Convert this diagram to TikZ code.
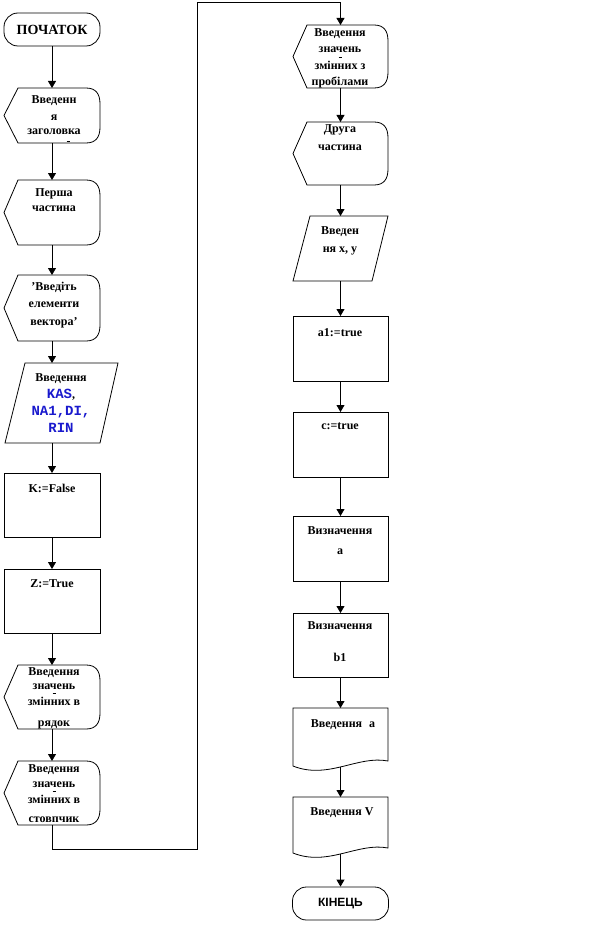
\documentclass[tikz,border=0pt]{standalone}
\usepackage{fontspec}
\setmainfont{Liberation Serif}
\setsansfont{Liberation Sans}
\setmonofont{Liberation Mono}
\usetikzlibrary{arrows.meta}
\definecolor{codeblue}{RGB}{25,25,205}
\newcommand\codefont{\fontsize{14}{16}\selectfont\ttfamily\bfseries\color{codeblue}}
% display shape: name, x-left, x-right, top, bottom
\newcommand\DispShape[5]{%
  \draw[shp] ({#2+14},#4) -- ({#3-14},#4) .. controls ({#3-4},#4) and (#3,{#4+6}) .. (#3,{#4+16})
    -- (#3,{#5-16}) .. controls (#3,{#5-6}) and ({#3-4},#5) .. ({#3-14},#5)
    -- ({#2+14},#5) -- (#2,{(#4+#5)/2}) -- cycle;
  \coordinate (#1-t) at ({(#2+#3)/2},#4);
  \coordinate (#1-b) at ({(#2+#3)/2},#5);}
% process box: name, x-left, x-right, top, bottom
\newcommand\RectShape[5]{%
  \draw[shp] (#2,#4) rectangle (#3,#5);
  \coordinate (#1-t) at ({(#2+#3)/2},#4);
  \coordinate (#1-b) at ({(#2+#3)/2},#5);}
% document: name, x-left, x-right, top, bottom-left, bottom-right
\newcommand\DocShape[6]{%
  \draw[shp] (#2,#4) -- (#3,#4) -- (#3,#6) .. controls ({#3-30},{#6-6}) and ({#2+35},{#5+14}) .. (#2,#5) -- cycle;
  \coordinate (#1-t) at ({(#2+#3)/2},#4);
  \coordinate (#1-b) at ({(#2+#3)/2},{(#5+#6)/2+3});}
% small hyphen stroke: x, y
\newcommand\HyMark[2]{\draw[line width=0.7pt] ({#1-1.5},#2) -- ({#1+1.5},#2);}
\begin{document}
\begin{tikzpicture}[x=1pt,y=-1pt,
  shp/.style={draw=black,line width=0.8pt},
  arr/.style={draw=black,line width=0.8pt,-{Triangle[width=8pt,length=7pt]}},
  txt/.style={font=\fontsize{12}{16}\selectfont\bfseries,align=center,inner sep=0pt,anchor=north},
  term/.style={draw=black,line width=0.8pt,rounded corners=14pt,minimum width=96pt,minimum height=33pt,inner sep=0pt}]
\useasboundingbox (0,0) rectangle (603,931);

% ---------------- left column ----------------
\node[term,font=\fontsize{14}{16}\selectfont\bfseries] (start) at (52,29.5) {ПОЧАТОК};

\DispShape{d1}{4}{100}{88}{143}
\node[txt] (d1x) at (54,95) {Введенн\\[1pt]я\\[-2pt]заголовка};
\HyMark{68}{141}

\DispShape{d2}{4}{100}{180}{245}
\node[txt] (d2x) at (54,188) {Перша\\[-1pt]частина};

\DispShape{d3}{4}{100}{275}{341}
\node[txt] (d3x) at (54,282) {'Введіть\\[1pt]елементи\\[2pt]вектора'};

\draw[shp] (25,363) -- (118,363) -- (100,443) -- (5,443) -- cycle;
\coordinate (p1-t) at (52,363);
\coordinate (p1-b) at (52,443);
\node[txt] (p1x) at (61,373) {Введення\\[1pt]{\codefont KAS}{,}\\[1pt]{\codefont NA1,DI,}\\[1pt]{\codefont RIN}};

\RectShape{k}{4}{100}{473}{537}
\node[txt] (kx) at (52,484) {K:=False};

\RectShape{z}{4}{100}{569}{633}
\node[txt] (zx) at (52,579) {Z:=True};

\DispShape{d4}{4}{100}{665}{729}
\node[txt] (d4x) at (54,667) {Введення\\[-2pt]значень\\[0pt]змінних в\\[5pt]рядок};
\HyMark{54}{693}

\DispShape{d5}{4}{100}{761}{825}
\node[txt] (d5x) at (54,764) {Введення\\[-1pt]значень\\[0pt]змінних в\\[3pt]стовпчик};
\HyMark{54}{791}

% ---------------- right column ----------------
\DispShape{r1}{293}{388}{25}{88}
\node[txt] (r1x) at (340,28) {Введення\\[0pt]значень\\[1pt]змінних з\\[0pt]пробілами};
\HyMark{340}{57}

\DispShape{r2}{293}{388}{122}{185}
\node[txt] (r2x) at (340,124) {Друга\\[2pt]частина};

\draw[shp] (310,216) -- (388,216) -- (372,281) -- (293,281) -- cycle;
\coordinate (p2-t) at (340.5,216);
\coordinate (p2-b) at (340.5,281);
\node[txt] (p2x) at (340,226) {Введен\\[2pt]ня x, y};

\RectShape{a1}{293}{388}{316}{381}
\node[txt] (a1x) at (340,328) {a1:=true};

\RectShape{c}{293}{388}{412}{477}
\node[txt] (cx) at (340,423) {c:=true};

\RectShape{va}{293}{388}{516}{581}
\node[txt] (vax) at (340,526) {Визначення\\[4pt]a};

\RectShape{vb}{293}{388}{613}{677}
\node[txt] (vbx) at (340,621) {Визначення\\[16pt]b1};

\DocShape{o1}{293}{388}{708}{766}{761}
\node[txt] (o1x) at (343,719) {Введення\hspace{4pt} a};

\DocShape{o2}{293}{388}{797}{853}{848}
\node[txt] (o2x) at (342,807) {Введення V};

\node[term,font=\fontsize{12}{14}\selectfont\sffamily\bfseries] (end) at (340.5,903.5) {КІНЕЦЬ};

% ---------------- connectors ----------------
\coordinate (j1) at (197,849);
\coordinate (j2) at (197,2);
\draw[arr] (start) -- (d1-t);
\draw[arr] (d1-b) -- (d2-t);
\draw[arr] (d2-b) -- (d3-t);
\draw[arr] (d3-b) -- (p1-t);
\draw[arr] (p1-b) -- (k-t);
\draw[arr] (k-b) -- (z-t);
\draw[arr] (z-b) -- (d4-t);
\draw[arr] (d4-b) -- (d5-t);
\draw[arr] (d5-b) |- (j1) -- (j2) -| (r1-t);
\draw[arr] (r1-b) -- (r2-t);
\draw[arr] (r2-b) -- (p2-t);
\draw[arr] (p2-b) -- (a1-t);
\draw[arr] (a1-b) -- (c-t);
\draw[arr] (c-b) -- (va-t);
\draw[arr] (va-b) -- (vb-t);
\draw[arr] (vb-b) -- (o1-t);
\draw[arr] (o1-b) -- (o2-t);
\draw[arr] (o2-b) -- (end);
\end{tikzpicture}
\end{document}
